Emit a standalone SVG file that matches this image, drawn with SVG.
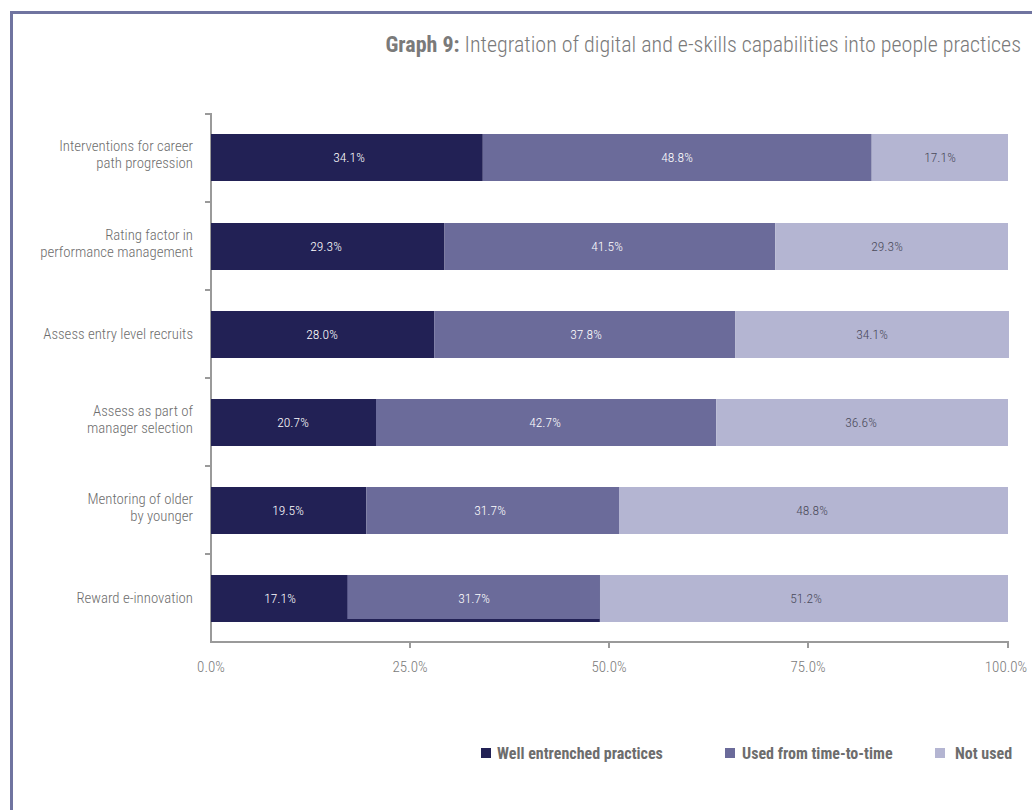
<svg xmlns="http://www.w3.org/2000/svg" width="1032" height="810" viewBox="0 0 1032 810">
<style>
.t{font-family:"Liberation Sans Narrow","Roboto Condensed","Liberation Sans",sans-serif;}
.cat{font-size:14.8px;font-weight:300;fill:#6d6d6d;text-anchor:end;}
.val{font-size:13.5px;font-weight:300;text-anchor:middle;}
.vw{fill:#ffffff;}
.vd{fill:#4a4a5a;}
.ax{font-size:15px;font-weight:300;fill:#7a7a7a;text-anchor:middle;}
.lg{font-size:16px;font-weight:bold;fill:#6d6d6d;}
.d{fill:#222155;}
.m{fill:#6b6b9a;}
.l{fill:#b4b5d2;}
.axis{stroke:#9a9a9a;stroke-width:2;fill:none;}
</style>
<rect x="0" y="0" width="1032" height="810" fill="#ffffff"/>
<path d="M11.5 810 V12.5 H1032" stroke="#7074a0" stroke-width="3" fill="none"/>
<text class="t" x="1021" y="52" font-size="22" font-weight="300" fill="#7a7a7a" text-anchor="end"><tspan font-weight="bold">Graph 9:</tspan> Integration of digital and e-skills capabilities into people practices</text>

<g id="axes">
<path class="axis" d="M205 114 H211 V642 H1008 V648 M205 202 H211 M205 290 H211 M205 378 H211 M205 466 H211 M205 554 H211 M410 642 V648 M609 642 V648 M808 642 V648"/>
<text class="t ax" x="211" y="672">0.0%</text>
<text class="t ax" x="410" y="672">25.0%</text>
<text class="t ax" x="609" y="672">50.0%</text>
<text class="t ax" x="808" y="672">75.0%</text>
<text class="t ax" x="1006" y="672">100.0%</text>
</g>

<g id="bar1">
<text class="t cat" x="193" y="151">Interventions for career</text>
<text class="t cat" x="193" y="168">path progression</text>
<rect class="d" x="211" y="134" width="271.8" height="47"/>
<rect class="m" x="482.8" y="134" width="388.9" height="47"/>
<rect class="l" x="871.7" y="134" width="136.3" height="47"/>
<text class="t val vw" x="349" y="162">34.1%</text>
<text class="t val vw" x="677" y="162">48.8%</text>
<text class="t val vd" x="940" y="162">17.1%</text>
</g>

<g id="bar2">
<text class="t cat" x="193" y="240">Rating factor in</text>
<text class="t cat" x="193" y="257">performance management</text>
<rect class="d" x="211" y="223" width="233.5" height="47"/>
<rect class="m" x="444.5" y="223" width="330.8" height="47"/>
<rect class="l" x="775.3" y="223" width="232.7" height="47"/>
<text class="t val vw" x="326" y="251">29.3%</text>
<text class="t val vw" x="607" y="251">41.5%</text>
<text class="t val vd" x="887" y="251">29.3%</text>
</g>

<g id="bar3">
<text class="t cat" x="193" y="339">Assess entry level recruits</text>
<rect class="d" x="211" y="311" width="223.2" height="47"/>
<rect class="m" x="434.2" y="311" width="301.2" height="47"/>
<rect class="l" x="735.4" y="311" width="273.6" height="47"/>
<text class="t val vw" x="322" y="339">28.0%</text>
<text class="t val vw" x="586" y="339">37.8%</text>
<text class="t val vd" x="872" y="339">34.1%</text>
</g>

<g id="bar4">
<text class="t cat" x="193" y="416">Assess as part of</text>
<text class="t cat" x="193" y="433">manager selection</text>
<rect class="d" x="211" y="399" width="165" height="47"/>
<rect class="m" x="376" y="399" width="340.3" height="47"/>
<rect class="l" x="716.3" y="399" width="291.7" height="47"/>
<text class="t val vw" x="293" y="427">20.7%</text>
<text class="t val vw" x="545" y="427">42.7%</text>
<text class="t val vd" x="861" y="427">36.6%</text>
</g>

<g id="bar5">
<text class="t cat" x="193" y="504">Mentoring of older</text>
<text class="t cat" x="193" y="521">by younger</text>
<rect class="d" x="211" y="487" width="155.4" height="47"/>
<rect class="m" x="366.4" y="487" width="252.6" height="47"/>
<rect class="l" x="619" y="487" width="389" height="47"/>
<text class="t val vw" x="288" y="515">19.5%</text>
<text class="t val vw" x="490" y="515">31.7%</text>
<text class="t val vd" x="812" y="515">48.8%</text>
</g>

<g id="bar6">
<text class="t cat" x="193" y="603">Reward e-innovation</text>
<rect class="d" x="211" y="575" width="388.9" height="47"/>
<rect class="m" x="347.3" y="575" width="252.6" height="44"/>
<rect class="l" x="599.9" y="575" width="408.1" height="47"/>
<text class="t val vw" x="280" y="603">17.1%</text>
<text class="t val vw" x="474" y="603">31.7%</text>
<text class="t val vd" x="806" y="603">51.2%</text>
</g>

<g id="legend">
<rect class="d" x="481" y="748" width="10" height="10"/>
<text class="t lg" x="497" y="759">Well entrenched practices</text>
<rect class="m" x="725" y="748" width="10" height="10"/>
<text class="t lg" x="742" y="759">Used from time-to-time</text>
<rect class="l" x="935" y="748" width="10" height="10"/>
<text class="t lg" x="955" y="759">Not used</text>
</g>
</svg>
